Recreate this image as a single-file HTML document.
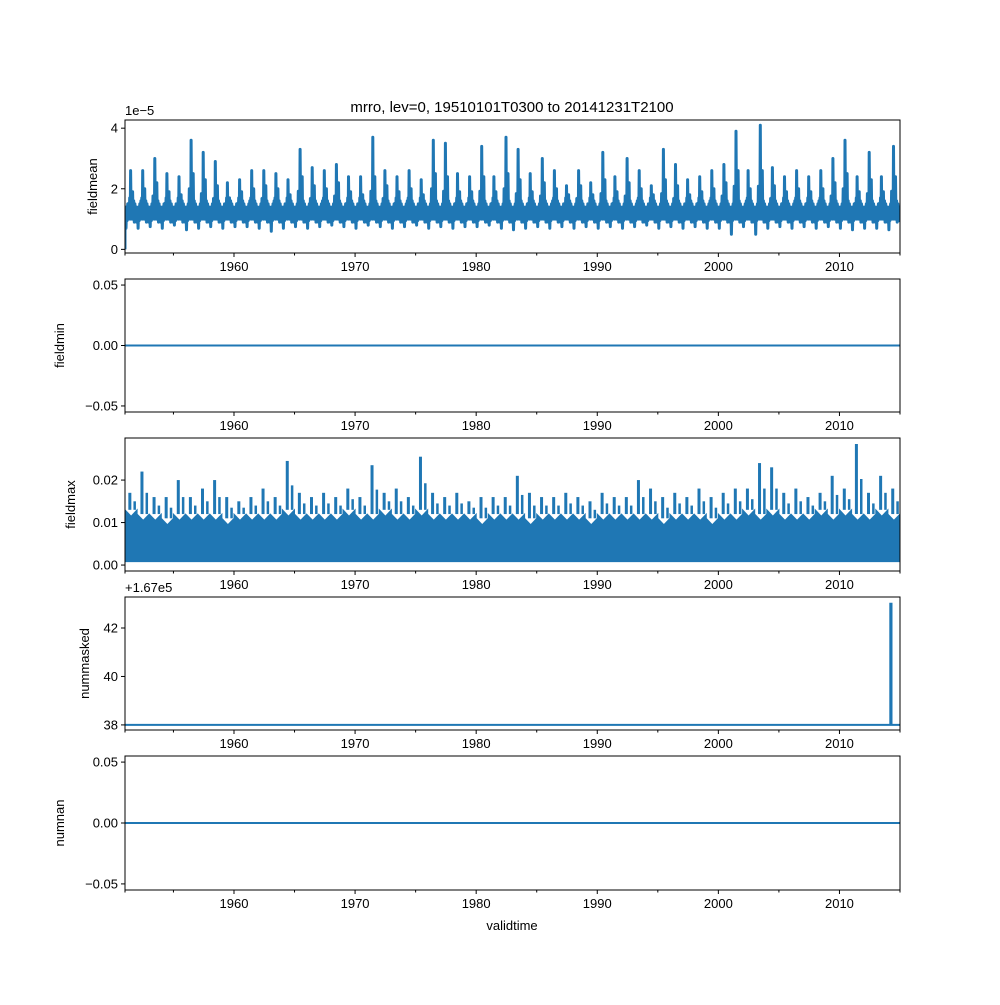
<!DOCTYPE html>
<html><head><meta charset="utf-8"><style>
body{margin:0;background:#fff;}
svg text{font-family:"Liberation Sans","DejaVu Sans",sans-serif;fill:#000;}
</style></head><body>
<svg id="fig" width="1000" height="1000" viewBox="0 0 1000 1000" xmlns="http://www.w3.org/2000/svg">
<rect width="1000" height="1000" fill="#fff"/>
<text x="512" y="112" font-size="15" text-anchor="middle">mrro, lev=0, 19510101T0300 to 20141231T2100</text>
<text x="512" y="930" font-size="13" text-anchor="middle">validtime</text>
</svg>
<script>
const years = [];
for (let y = 1951; y <= 2014; y++) years.push(y);
const meanPeaks = [2.6,2.6,3.0,2.5,2.4,3.6,3.2,2.9,2.2,2.3,2.6,2.6,2.5,2.3,3.3,2.7,2.6,2.8,2.4,2.4,3.7,2.6,2.4,2.6,2.3,3.6,3.5,2.5,2.4,3.4,2.4,3.7,3.3,2.5,3.0,2.6,2.1,2.6,2.2,3.2,2.4,3.0,2.6,2.1,3.3,2.8,2.3,2.4,2.6,2.8,3.9,2.6,4.1,2.7,2.4,2.6,2.4,2.6,3.0,3.6,2.4,3.2,2.4,3.4];
const meanTroughs = [0.7,0.7,0.75,0.7,0.8,0.65,0.7,0.75,0.7,0.75,0.75,0.7,0.6,0.7,0.75,0.7,0.75,0.8,0.75,0.7,0.8,0.75,0.7,0.75,0.8,0.7,0.75,0.7,0.75,0.75,0.8,0.7,0.65,0.7,0.75,0.7,0.75,0.7,0.75,0.7,0.75,0.7,0.75,0.8,0.7,0.75,0.7,0.75,0.7,0.7,0.5,0.75,0.5,0.7,0.75,0.7,0.75,0.7,0.75,0.7,0.65,0.7,0.7,0.65];
const meanSecond = [1.9,2.0,2.2,1.9,1.8,2.5,2.3,2.1,1.7,1.9,2.0,2.1,2.0,1.8,2.4,2.1,2.0,2.2,1.9,1.8,2.4,2.1,1.9,2.0,1.8,2.5,2.4,1.9,1.9,2.4,1.9,2.5,2.3,1.9,2.2,2.0,1.8,2.1,1.8,2.3,1.9,2.2,2.0,1.8,2.3,2.1,1.8,1.9,2.0,2.2,2.6,2.0,2.6,2.1,1.9,2.0,1.9,2.0,2.2,2.5,1.9,2.3,1.9,2.4];
const maxSpikes = [0.017,0.022,0.016,0.016,0.020,0.016,0.018,0.020,0.016,0.015,0.016,0.018,0.016,0.0245,0.017,0.016,0.017,0.016,0.018,0.016,0.0235,0.017,0.018,0.016,0.0255,0.017,0.016,0.017,0.015,0.016,0.016,0.016,0.021,0.017,0.016,0.016,0.017,0.016,0.015,0.017,0.016,0.016,0.020,0.018,0.016,0.017,0.016,0.018,0.016,0.017,0.018,0.018,0.024,0.023,0.017,0.018,0.016,0.017,0.021,0.018,0.0285,0.017,0.021,0.018];
const maxBand = [0.013,0.012,0.012,0.011,0.012,0.012,0.012,0.012,0.011,0.012,0.012,0.012,0.012,0.013,0.012,0.012,0.012,0.012,0.013,0.012,0.012,0.013,0.012,0.012,0.013,0.012,0.012,0.012,0.012,0.011,0.012,0.012,0.012,0.011,0.012,0.012,0.012,0.012,0.011,0.012,0.012,0.012,0.012,0.012,0.011,0.012,0.012,0.012,0.011,0.012,0.012,0.013,0.012,0.013,0.012,0.012,0.012,0.013,0.012,0.013,0.012,0.012,0.013,0.012];
const maskTime = [1951, 2014.2, 2014.2, 2014.3, 2014.3, 2015];
const maskVals = [38, 38, 43, 43, 38, 38];
const xTicks = [1960,1970,1980,1990,2000,2010];
const minorTicks = [1955,1965,1975,1985,1995,2005];

const NS = "http://www.w3.org/2000/svg";
const svg = document.getElementById('fig');
const X0 = 125, X1 = 900, T0 = 1951, T1 = 2015;
const xs = t => X0 + (t - T0) / (T1 - T0) * (X1 - X0);
function mk(tag, attrs, parent) {
  const e = document.createElementNS(NS, tag);
  for (const k in attrs) e.setAttribute(k, attrs[k]);
  (parent || svg).appendChild(e);
  return e;
}
const panels = [
  {top:120,bot:253,lo:-0.12,hi:4.27,yt:[0,2,4],fmt:v=>String(v),label:'fieldmean',off:'1e\u22125'},
  {top:279,bot:412,lo:-0.055,hi:0.055,yt:[-0.05,0,0.05],fmt:v=>v.toFixed(2).replace('-','\u2212'),label:'fieldmin'},
  {top:438,bot:571,lo:-0.0014,hi:0.0299,yt:[0,0.01,0.02],fmt:v=>v.toFixed(2),label:'fieldmax'},
  {top:597,bot:730,lo:37.79,hi:43.28,yt:[38,40,42],fmt:v=>String(v),label:'nummasked',off:'+1.67e5'},
  {top:756,bot:890,lo:-0.055,hi:0.055,yt:[-0.05,0,0.05],fmt:v=>v.toFixed(2).replace('-','\u2212'),label:'numnan'}
];
const C = '#1f77b4';
panels.forEach((p, i) => {
  const ys = v => p.bot - (v - p.lo) / (p.hi - p.lo) * (p.bot - p.top);
  p.ys = ys;
  const g = mk('g', {});
  
  
  const cid = 'clip' + i;
  const cp = mk('clipPath', {id: cid}, g);
  mk('rect', {x: X0, y: p.top, width: X1 - X0, height: p.bot - p.top}, cp);
  const dg = mk('g', {'clip-path': 'url(#' + cid + ')'}, g);
  
  
  if (i === 0) {
    let d = '';
    years.forEach((y, k) => {
      const tr = meanTroughs[k], pk = meanPeaks[k], sc = meanSecond[k];
      const pts = [[y+0.0, tr+0.4],[y+0.04, 1.2],[y+0.08, tr],[y+0.13, 1.4],[y+0.17, 0.95],[y+0.22, 1.5],[y+0.27, 1.0],[y+0.31, sc*0.8],[y+0.35, 1.1],[y+0.39, 1.7],[y+0.43, 1.0],[y+0.46, pk],[y+0.5, 1.2],[y+0.54, 1.7],[y+0.58, 1.0],[y+0.63, sc],[y+0.67, 1.0],[y+0.72, 1.6],[y+0.77, 0.9],[y+0.82, 1.5],[y+0.87, 0.95],[y+0.92, 1.4],[y+0.96, 0.9]];
      pts.forEach(([t, v], j) => { d += (k === 0 && j === 0 ? 'M' : 'L') + xs(t).toFixed(1) + ',' + ys(v).toFixed(1); });
    });
    d = 'M' + xs(1951) + ',' + ys(0) + d.replace(/^M/, 'L');
    const pa = mk('path', {d, fill: 'none', stroke: C, 'stroke-width': 3, 'stroke-linejoin': 'round'}, dg);
    
    
  } else if (i === 2) {
    let d = 'M' + xs(1951) + ',' + ys(0.0008);
    years.forEach((y, k) => {
      d += 'L' + xs(y).toFixed(1) + ',' + ys(maxBand[k]).toFixed(1) + 'L' + xs(y + 0.5).toFixed(1) + ',' + ys(maxBand[k] - 0.0015).toFixed(1) + 'L' + xs(y + 1).toFixed(1) + ',' + ys(maxBand[k]).toFixed(1);
    });
    d += 'L' + xs(2015) + ',' + ys(0.0008) + 'Z';
    const band = mk('path', {d, fill: C, stroke: C, 'stroke-width': 1}, dg);
    
    
    years.forEach((y, k) => {
      const sp = mk('line', {x1: xs(y + 0.4), x2: xs(y + 0.4), y1: ys(maxBand[k]), y2: ys(maxSpikes[k]), stroke: C, 'stroke-width': 3}, dg);
      
      
      const sp2 = mk('line', {x1: xs(y + 0.8), x2: xs(y + 0.8), y1: ys(maxBand[k]), y2: ys((maxBand[k] + maxSpikes[k]) / 2), stroke: C, 'stroke-width': 2.5}, dg);
      
      
    });
  } else if (i === 3) {
    const d = maskTime.map((t, k) => (k ? 'L' : 'M') + xs(t).toFixed(1) + ',' + ys(maskVals[k]).toFixed(1)).join('');
    const pa = mk('path', {d, fill: 'none', stroke: C, 'stroke-width': 2}, dg);
    
    
  } else {
    const ln = mk('line', {x1: X0, x2: X1, y1: ys(0), y2: ys(0), stroke: C, 'stroke-width': 2}, dg);
    
    
  }
  const fr = mk('rect', {x: X0, y: p.top, width: X1 - X0, height: p.bot - p.top, fill: 'none', stroke: '#000', 'stroke-width': 1}, g);
  
  
  p.yt.forEach(v => {
    const y = ys(v);
    mk('line', {x1: X0 - 4, x2: X0, y1: y, y2: y, stroke: '#000'}, g);
    const t = mk('text', {x: X0 - 7, y: y + 4.5, 'font-size': 13, 'text-anchor': 'end'}, g);
    t.textContent = p.fmt(v);
    
    
  });
  xTicks.forEach(v => {
    const x = xs(v);
    mk('line', {x1: x, x2: x, y1: p.bot, y2: p.bot + 4, stroke: '#000'}, g);
    const t = mk('text', {x: x, y: p.bot + 18, 'font-size': 13, 'text-anchor': 'middle'}, g);
    t.textContent = String(v);
    
    
  });
  minorTicks.concat([1951, 2015]).forEach(v => {
    mk('line', {x1: xs(v), x2: xs(v), y1: p.bot, y2: p.bot + 2.5, stroke: '#000'}, g);
  });
  const cy = (p.top + p.bot) / 2;
  const lab = mk('text', {x: 0, y: 0, 'font-size': 13, 'text-anchor': 'middle', transform: 'translate(' + (i === 0 ? 97 : (i === 2 ? 75 : (i === 3 ? 89 : 64))) + ',' + cy + ') rotate(-90)'}, g);
  lab.textContent = p.label;
  
  
  if (p.off) {
    const o = mk('text', {x: X0, y: p.top - 5, 'font-size': 13}, g);
    o.textContent = p.off;
    
    
  }
});
</script>
</body></html>
